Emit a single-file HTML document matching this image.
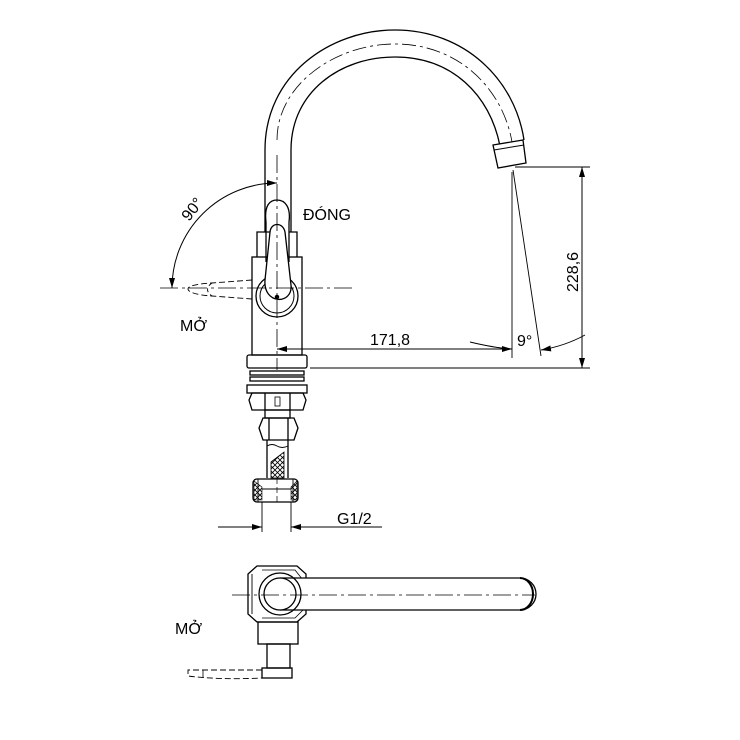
<!DOCTYPE html>
<html><head><meta charset="utf-8"><style>html,body{margin:0;padding:0;background:#fff}svg{display:block}</style></head><body>
<svg width="740" height="740" viewBox="0 0 740 740" xmlns="http://www.w3.org/2000/svg" font-family="Liberation Sans, sans-serif">
<defs>
<marker id="a" viewBox="0 0 10 6" refX="10" refY="3" markerWidth="10" markerHeight="6" orient="auto-start-reverse" markerUnits="userSpaceOnUse"><path d="M0,0 L10,3 L0,6z" fill="#000"/></marker>
<pattern id="h" width="5" height="5" patternUnits="userSpaceOnUse"><path d="M0,5 L5,0 M0,0 L5,5" stroke="#000" stroke-width="0.8"/></pattern>
</defs>
<g fill="none" stroke="#000" stroke-width="1.3">
<path d="M265,232 L265,150 C265,75 330,30 395,30 C465,30 515,80 524,140"/>
<path d="M291,232 L291,150 C291,92 340,57 395,57 C452,57 490,95 500,146"/>
<path d="M493,145 L523,140 L526,163 L498,168 Z" fill="#fff"/>
<path d="M494,150 L524,145" stroke-width="1"/>
<path d="M277,140 C277,85 335,44 395,44 C460,44 503,90 512,142" stroke-width="0.8" stroke-dasharray="14,4,3,4"/>
<path d="M257,257 L257,232 L297,232 L297,257"/>
<rect x="252" y="257" width="50" height="98"/>
<rect x="247" y="355" width="60" height="13" rx="2"/>
<circle cx="277" cy="296" r="21"/>
<circle cx="277" cy="296" r="17" stroke-width="1"/>
<path d="M266,222 C264,205 270,200 277,200 C285,200 291,207 289,222 L289,262" fill="#fff"/>
<path d="M266,222 L266,262"/>
<path d="M265,280 L270,232 C271,222 283,222 285,232 L291,285 C293,305 263,305 265,280 Z" fill="#fff"/>
<circle cx="277" cy="297" r="1.6" fill="#000"/>
<path d="M160,288 L356,288" stroke-width="0.8" stroke-dasharray="18,4,3,4"/>
<path d="M277,155 L277,370" stroke-width="0.8" stroke-dasharray="18,4,3,4"/>
<path d="M252,280 L212,283 C196,284 188,286 188,289 C188,292 196,295 212,296 L252,299" stroke-width="0.9" stroke-dasharray="6,3"/>
<path d="M212,283 C206,287 206,292 212,296" stroke-width="0.9" stroke-dasharray="4,3"/>
<path d="M277,183 A105,105 0 0 0 172,288" stroke-width="1" marker-start="url(#a)" marker-end="url(#a)"/>
<path d="M277,349 L512,349" stroke-width="1" marker-start="url(#a)" marker-end="url(#a)"/>
<path d="M512,172 L512,358" stroke-width="0.9"/>
<path d="M513,170 L541,356" stroke-width="0.9"/>
<path d="M470,342 Q495,348 512,349" stroke-width="0.9"/>
<path d="M541,350 Q565,346 585,335" stroke-width="0.9" marker-start="url(#a)"/>
<path d="M515,167 L590,167 M310,368 L590,368" stroke-width="0.9"/>
<path d="M582,167 L582,368" stroke-width="1" marker-start="url(#a)" marker-end="url(#a)"/>
<rect x="250" y="371" width="54" height="4"/>
<rect x="250" y="377" width="54" height="4"/>
<rect x="247" y="385" width="60" height="8"/>
<path d="M252,393 L303,393 L306,400 L303,410 L252,410 L249,400 Z"/>
<path d="M265,393 L265,410 M290,393 L290,410"/>
<rect x="275" y="397" width="5" height="9" stroke-width="0.8"/>
<rect x="265" y="410" width="25" height="8"/>
<path d="M263,418 L294,418 L298,428 L294,440 L263,440 L259,428 Z"/>
<path d="M269,418 L269,440 M288,418 L288,440"/>
<path d="M267,440 L267,478 M288,440 L288,478"/>
<path d="M267,446 Q272,443 277,446 Q282,449 288,446" stroke-width="0.9"/>
<path d="M271,478 L271,462 L284,452 L284,478 Z" fill="url(#h)" stroke-width="0.8"/>
<rect x="253" y="479" width="45" height="23" rx="4"/>
<path d="M258,479 L258,502 M293,479 L293,502 M262,489 L291,489" stroke-width="0.9"/>
<path d="M254,481 L262,487 L262,500 L254,500 Z M297,481 L291,487 L291,500 L297,500 Z" fill="url(#h)" stroke-width="0.6"/>
<path d="M277,478 L277,505" stroke-width="0.7" stroke-dasharray="6,3"/>
<path d="M262,502 L262,532 M291,502 L291,532" stroke-width="0.9"/>
<path d="M218,527 L262,527" stroke-width="1" marker-end="url(#a)"/>
<path d="M382,527 L291,527" stroke-width="1" marker-end="url(#a)"/>
<path d="M257,566 L297,566 L306,574 L306,614 L297,622 L257,622 L248,614 L248,574 Z"/>
<path d="M252,574 L252,614" stroke-width="0.9"/>
<path d="M262,570 L295,570 L303,580 L303,610 L295,618 L262,618" stroke-width="0.8"/>
<path d="M280,578 L520,578 A16,16 0 0 1 520,610 L280,610" fill="#fff"/>
<circle cx="280" cy="594" r="21"/>
<circle cx="280" cy="594" r="16" fill="#fff"/>
<path d="M520,578 A13,16 0 0 1 520,610" stroke-width="2"/>
<path d="M232,595 L535,595" stroke-width="0.8" stroke-dasharray="18,4,3,4"/>
<rect x="258" y="622" width="40" height="22"/>
<rect x="267" y="644" width="23" height="24"/>
<rect x="262" y="668" width="30" height="10"/>
<path d="M262,670 L188,670 L188,676 Q220,680 262,678" stroke-width="0.9" stroke-dasharray="6,3"/>
<path d="M203,670 L203,678" stroke-width="0.8"/>
</g>
<g font-size="16" fill="#000">
<text x="303" y="220">ĐÓNG</text>
<text x="180" y="331">MỞ</text>
<text x="370" y="345">171,8</text>
<text x="517" y="346">9°</text>
<text x="337" y="524">G1/2</text>
<text x="175" y="634">MỞ</text>
<text transform="translate(578,292) rotate(-90)">228,6</text>
<text transform="translate(189,222) rotate(-52)">90°</text>
</g>
</svg>
</body></html>
